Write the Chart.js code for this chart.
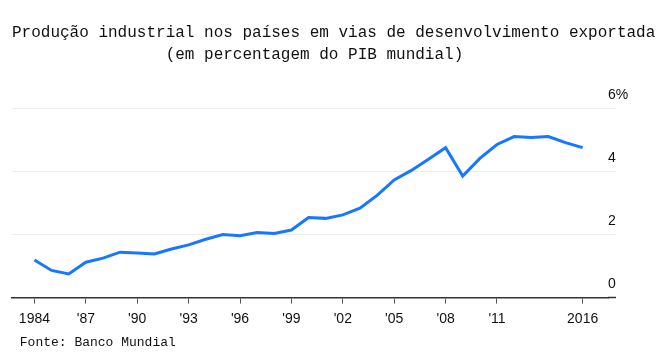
<!DOCTYPE html>
<html>
<head>
<meta charset="utf-8">
<script src="https://cdn.jsdelivr.net/npm/chart.js@4/dist/chart.umd.min.js"></script>
<style>
    html, body { margin: 0; padding: 0; background: #fff; }
    #wrap { width: 669px; height: 361px; }
</style>
</head>
<body>
<div id="wrap"><canvas id="chart"></canvas></div>
<script>
// Dados (percentagem do PIB mundial)
const years = [1984, 1985, 1986, 1987, 1988, 1989, 1990, 1991, 1992, 1993, 1994,
    1995, 1996, 1997, 1998, 1999, 2000, 2001, 2002, 2003, 2004, 2005, 2006,
    2007, 2008, 2009, 2010, 2011, 2012, 2013, 2014, 2015, 2016];
const exportShare = [1.19, 0.86, 0.75, 1.12, 1.25, 1.44, 1.41, 1.38, 1.54, 1.67, 1.85,
    2.00, 1.96, 2.06, 2.03, 2.14, 2.54, 2.51, 2.62, 2.83, 3.24, 3.73, 4.03,
    4.38, 4.75, 3.85, 4.41, 4.85, 5.10, 5.07, 5.10, 4.91, 4.75];

const tickYears = [1984, 1987, 1990, 1993, 1996, 1999, 2002, 2005, 2008, 2011, 2016];
const tickLabels = ['1984', "'87", "'90", "'93", "'96", "'99", "'02", "'05", "'08", "'11", '2016'];
const yTicks = [0, 2, 4, 6];

const titleLines = [
    'Produção industrial nos países em vias de desenvolvimento exportada',
    '                (em percentagem do PIB mundial)'
];
const sourceText = ' Fonte: Banco Mundial';

const sans = "'Liberation Sans', Arial, sans-serif";
const mono = "'Liberation Mono', 'Courier New', monospace";

const gridColor = '#ececec';
const axisColor = '#333';

const ctx = document.getElementById('chart').getContext('2d');
new Chart(ctx, {
    type: 'line',
    data: {
        datasets: [{
            data: years.map((y, i) => ({ x: y, y: exportShare[i] })),
            borderColor: '#1877ff',
            borderWidth: 3,
            pointRadius: 0,
            tension: 0,
            fill: false
        }]
    },
    options: {
        responsive: true,
        maintainAspectRatio: false,
        animation: false,
        layout: { padding: { left: 12, right: 0, top: 0, bottom: 11 } },
        plugins: {
            legend: { display: false },
            tooltip: { enabled: false },
            title: {
                display: true,
                text: titleLines,
                align: 'start',
                color: '#111',
                font: { family: mono, size: 16, weight: 'normal', lineHeight: 1.35 },
                padding: { top: 22, bottom: 43 }
            },
            subtitle: {
                display: true,
                position: 'bottom',
                text: sourceText,
                align: 'start',
                color: '#111',
                font: { family: mono, size: 13, weight: 'normal', lineHeight: 1.2 },
                padding: { top: 0, bottom: 0 }
            }
        },
        scales: {
            x: {
                type: 'linear',
                min: 1982.69,
                max: 2017.48,
                afterBuildTicks: scale => {
                    scale.ticks = tickYears.map(v => ({ value: v }));
                },
                grid: {
                    drawOnChartArea: false,
                    drawTicks: true,
                    tickLength: 6,
                    color: '#555'
                },
                border: { display: true, color: axisColor, width: 1.5 },
                ticks: {
                    autoSkip: false,
                    maxRotation: 0,
                    padding: 7,
                    color: '#111',
                    font: { family: sans, size: 14 },
                    callback: value => tickLabels[tickYears.indexOf(value)]
                }
            },
            y: {
                position: 'right',
                min: 0,
                max: 6,
                afterBuildTicks: scale => {
                    scale.ticks = yTicks.map(v => ({ value: v }));
                },
                afterFit: scale => { scale.width = 61; },
                grid: {
                    drawTicks: true,
                    tickLength: 8,
                    color: c => c.tick && c.tick.value === 0 ? 'rgba(0,0,0,0)' : gridColor,
                    tickColor: c => c.tick && c.tick.value === 0 ? axisColor : gridColor,
                    tickWidth: c => c.tick && c.tick.value === 0 ? 1.5 : 1,
                    lineWidth: 1
                },
                border: { display: false },
                ticks: {
                    padding: -8,
                    labelOffset: -13,
                    color: '#111',
                    font: { family: sans, size: 14 },
                    callback: value => value === 6 ? value + '%' : String(value)
                }
            }
        }
    }
});
</script>
</body>
</html>
